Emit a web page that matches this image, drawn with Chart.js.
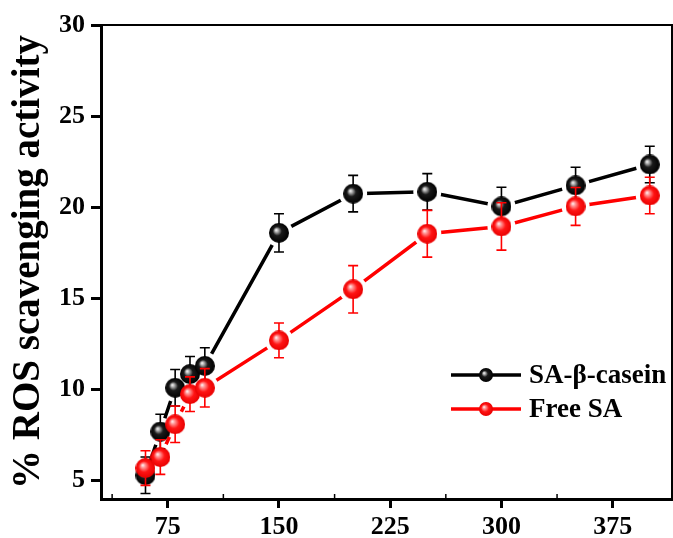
<!DOCTYPE html>
<html>
<head>
<meta charset="utf-8">
<script src="https://cdn.jsdelivr.net/npm/chart.js@4/dist/chart.umd.min.js"></script>
<style>
  html, body { margin: 0; padding: 0; background: #fff; }
  canvas { display: block; }
</style>
</head>
<body>
<canvas id="chart" width="673" height="538"></canvas>
<script>
// concentration values (x) and the two series
const xValues = [60, 70, 80, 90, 100, 150, 200, 250, 300, 350, 400];
const caseinValues = [5.3, 7.7, 10.1, 10.85, 11.3, 18.6, 20.75, 20.85, 20.05, 21.2, 22.35];
const caseinErrors = [1.0, 0.95, 1.0, 0.97, 1.0, 1.05, 1.0, 1.0, 1.05, 1.0, 1.0];
const freeValues = [5.7, 6.3, 8.1, 9.75, 10.1, 12.7, 15.5, 18.55, 18.95, 20.05, 20.65];
const freeErrors = [0.95, 0.95, 1.0, 0.95, 1.05, 0.95, 1.3, 1.28, 1.3, 1.04, 1.0];
const seriesNames = ["SA-\u03b2-casein", "Free SA"];
const xTicks = [75, 150, 225, 300, 375];
const xMinorTicks = [37.5, 112.5, 187.5, 262.5, 337.5];
const yTicks = [5, 10, 15, 20, 25, 30];

const FONT = "'Liberation Serif', 'Times New Roman', serif";

function sphere(r, dark) {
    const c = document.createElement("canvas");
    c.width = c.height = 2 * r;
    const g = c.getContext("2d");
    const grad = g.createRadialGradient(r - 0.3 * r, r - 0.3 * r, 0, r, r, r);
    if (dark) {
        grad.addColorStop(0, "#ffffff");
        grad.addColorStop(0.16, "#b8b8b8");
        grad.addColorStop(0.45, "#1a1a1a");
        grad.addColorStop(1, "#000000");
    } else {
        grad.addColorStop(0, "#ffffff");
        grad.addColorStop(0.2, "#ff9c9c");
        grad.addColorStop(0.55, "#ff1414");
        grad.addColorStop(1, "#e80000");
    }
    g.fillStyle = grad;
    g.beginPath();
    g.arc(r, r, r, 0, Math.PI * 2);
    g.fill();
    return c;
}

const blackBall = sphere(10, true);
const redBall = sphere(10, false);
const blackSmall = sphere(7, true);
const redSmall = sphere(7, false);

const toPoints = (vals) => xValues.map((x, i) => ({ x: x, y: vals[i] }));

// line gaps around markers, error bars before markers
const markerPlugin = {
    id: "markers",
    beforeDatasetDraw(chart, args) {
        const ds = chart.data.datasets[args.index];
        const ctx = chart.ctx;
        if (ds.role === "line") {
            ctx.save();
            args.meta.data.forEach(el => {
                ctx.beginPath();
                ctx.rect(0, 0, chart.width, chart.height);
                ctx.arc(el.x, el.y, 14, 0, Math.PI * 2);
                ctx.clip("evenodd");
            });
        } else if (ds.role === "points") {
            const xs = chart.scales.x, ys = chart.scales.y;
            ctx.save();
            ctx.strokeStyle = ds.errColor;
            ctx.lineWidth = 1.6;
            ds.data.forEach((p, i) => {
                const px = xs.getPixelForValue(p.x);
                const top = ys.getPixelForValue(p.y + ds.errors[i]);
                const bot = ys.getPixelForValue(p.y - ds.errors[i]);
                ctx.beginPath();
                ctx.moveTo(px, top); ctx.lineTo(px, bot);
                ctx.moveTo(px - 5, top); ctx.lineTo(px + 5, top);
                ctx.moveTo(px - 5, bot); ctx.lineTo(px + 5, bot);
                ctx.stroke();
            });
            ctx.restore();
        }
    },
    afterDatasetDraw(chart, args) {
        const ds = chart.data.datasets[args.index];
        if (ds.role === "line") chart.ctx.restore();
    }
};

const extrasPlugin = {
    id: "extras",
    afterDraw(chart) {
        const ctx = chart.ctx;
        const area = chart.chartArea;
        ctx.save();
        // small inward minor ticks on the bottom axis
        ctx.strokeStyle = "#000";
        ctx.lineWidth = 1.5;
        xMinorTicks.forEach(v => {
            const px = chart.scales.x.getPixelForValue(v);
            ctx.beginPath();
            ctx.moveTo(px, area.bottom);
            ctx.lineTo(px, area.bottom - 5);
            ctx.stroke();
        });
        // legend: line + marker + label
        const rows = [
            { name: seriesNames[0], color: "#000", ball: blackSmall, y: 375 },
            { name: seriesNames[1], color: "#ff0000", ball: redSmall, y: 409 }
        ];
        rows.forEach(r => {
            ctx.strokeStyle = r.color;
            ctx.lineWidth = 3.5;
            ctx.beginPath();
            ctx.moveTo(451, r.y); ctx.lineTo(521, r.y);
            ctx.stroke();
            ctx.drawImage(r.ball, 486 - 7, r.y - 7);
            ctx.fillStyle = "#000";
            ctx.font = "bold 27px " + FONT;
            ctx.textBaseline = "middle";
            ctx.fillText(r.name, 529, r.y + 1);
        });
        ctx.restore();
    }
};

const tickFont = { family: FONT, size: 26, weight: "bold" };

new Chart(document.getElementById("chart"), {
    type: "line",
    data: {
        datasets: [
            { role: "line", data: toPoints(freeValues), borderColor: "#ff0000", borderWidth: 3.5,
              pointRadius: 0, fill: false, order: 1 },
            { role: "points", data: toPoints(freeValues), errors: freeErrors, errColor: "#ff0000",
              showLine: false, pointStyle: redBall, pointRadius: 10, order: 0 },
            { role: "line", data: toPoints(caseinValues), borderColor: "#000000", borderWidth: 3.5,
              pointRadius: 0, fill: false, order: 3 },
            { role: "points", data: toPoints(caseinValues), errors: caseinErrors, errColor: "#000000",
              showLine: false, pointStyle: blackBall, pointRadius: 10, order: 2 }
        ]
    },
    options: {
        responsive: false,
        devicePixelRatio: 1,
        animation: false,
        events: [],
        layout: { padding: 0, autoPadding: false },
        plugins: { legend: { display: false }, tooltip: { enabled: false } },
        scales: {
            x: {
                type: "linear", position: "bottom", min: 30, max: 415,
                afterBuildTicks: s => { s.ticks = xTicks.map(v => ({ value: v })); },
                afterFit: s => { s.height = 39; s.paddingLeft = 0; s.paddingRight = 0; },
                ticks: { font: tickFont, color: "#000", padding: 4, maxRotation: 0, autoSkip: false },
                grid: { drawOnChartArea: false, drawTicks: true, tickLength: 9, tickWidth: 3, tickColor: "#000" },
                border: { color: "#000", width: 3 }
            },
            xTop: {
                type: "linear", position: "top", min: 30, max: 415,
                afterFit: s => { s.height = 25; s.paddingLeft = 0; s.paddingRight = 0; },
                ticks: { display: false },
                grid: { display: false },
                border: { color: "#000", width: 2 }
            },
            y: {
                type: "linear", position: "left", min: 4, max: 30,
                afterBuildTicks: s => { s.ticks = yTicks.map(v => ({ value: v })); },
                afterFit: s => { s.width = 101; },
                ticks: { font: tickFont, color: "#000", padding: 6 },
                grid: { drawOnChartArea: false, drawTicks: true, tickLength: 10, tickWidth: 3, tickColor: "#000" },
                border: { color: "#000", width: 3 },
                title: { display: true, text: "% ROS scavenging activity", color: "#000",
                         font: { family: FONT, size: 39, weight: "bold" }, padding: { top: 6, bottom: 0 } }
            },
            yRight: {
                type: "linear", position: "right", min: 4, max: 30,
                afterFit: s => { s.width = 1; },
                ticks: { display: false },
                grid: { display: false },
                border: { color: "#000", width: 2 }
            }
        }
    },
    plugins: [markerPlugin, extrasPlugin]
});
</script>
</body>
</html>
